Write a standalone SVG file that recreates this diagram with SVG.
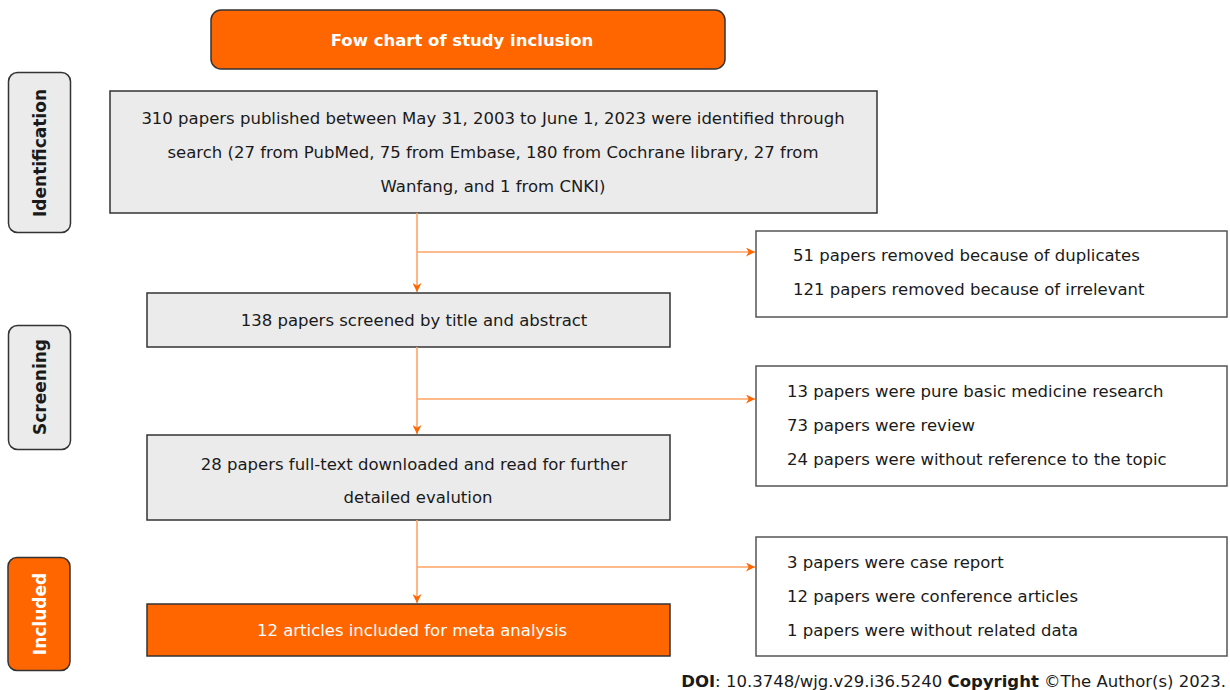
<svg xmlns="http://www.w3.org/2000/svg" width="1230" height="690" viewBox="0 0 1230 690">
<style>
text{font-family:"DejaVu Sans","Liberation Sans",sans-serif;font-size:16.5px;fill:#1a1a1a}
.gray{fill:#ebebeb;stroke:#333;stroke-width:1.5}
.white{fill:#fff;stroke:#555;stroke-width:1.5}
.orange{fill:#ff6600;stroke:#333;stroke-width:1.5}
.side{font-weight:bold;font-size:17px}
.wt{fill:#fff}
.c{text-anchor:middle}
.conn{stroke:#ffa366;stroke-width:1.6;fill:none}
</style>
<defs>
<marker id="ah" viewBox="0 0 10 10" refX="10" refY="5" markerWidth="9" markerHeight="9" markerUnits="userSpaceOnUse" orient="auto">
<path d="M0,0 L10,5 L0,10 L3,5 z" fill="#ff6600"/>
</marker>
</defs>
<g id="title"><rect class="orange" x="211" y="10" width="514" height="59" rx="10"/><text class="c wt" x="462" y="46" font-weight="bold">Fow chart of study inclusion</text></g>
<g id="side-identification"><rect class="gray" x="8.5" y="72.5" width="62" height="160" rx="9"/><text class="side c" transform="translate(46,153) rotate(-90)">Identification</text></g>
<g id="side-screening"><rect class="gray" x="8.5" y="325.5" width="62" height="124" rx="9"/><text class="side c" transform="translate(46,387) rotate(-90)">Screening</text></g>
<g id="side-included"><rect class="orange" x="8" y="557.5" width="62" height="113" rx="9"/><text class="side c wt" transform="translate(46,614) rotate(-90)">Included</text></g>
<g id="box-identified"><rect class="gray" x="110" y="91" width="767" height="122"/>
<text class="c" x="493" y="124">310 papers published between May 31, 2003 to June 1, 2023 were identified through</text>
<text class="c" x="493" y="158">search (27 from PubMed, 75 from Embase, 180 from Cochrane library, 27 from</text>
<text class="c" x="493" y="192">Wanfang, and 1 from CNKI)</text></g>
<g id="box-screened"><rect class="gray" x="147" y="293" width="523" height="54"/><text class="c" x="414" y="326">138 papers screened by title and abstract</text></g>
<g id="box-fulltext"><rect class="gray" x="147" y="435" width="523" height="85"/><text class="c" x="414" y="470">28 papers full-text downloaded and read for further</text><text class="c" x="418" y="503">detailed evalution</text></g>
<g id="box-included"><rect class="orange" x="147" y="604" width="523" height="52"/><text class="c wt" x="412" y="636">12 articles included for meta analysis</text></g>
<g id="excl-1"><rect class="white" x="756" y="231" width="471" height="86"/><text x="793" y="261">51 papers removed because of duplicates</text><text x="793" y="295">121 papers removed because of irrelevant</text></g>
<g id="excl-2"><rect class="white" x="756" y="366" width="471" height="120"/><text x="787" y="397">13 papers were pure basic medicine research</text><text x="787" y="431">73 papers were review</text><text x="787" y="465">24 papers were without reference to the topic</text></g>
<g id="excl-3"><rect class="white" x="756" y="537" width="471" height="119"/><text x="787" y="568">3 papers were case report</text><text x="787" y="602">12 papers were conference articles</text><text x="787" y="636">1 papers were without related data</text></g>
<g id="connectors">
<path class="conn" d="M417,213 V292" marker-end="url(#ah)"/>
<path class="conn" d="M417,252 H755" marker-end="url(#ah)"/>
<path class="conn" d="M417,347 V434" marker-end="url(#ah)"/>
<path class="conn" d="M417,399 H755" marker-end="url(#ah)"/>
<path class="conn" d="M417,520 V603" marker-end="url(#ah)"/>
<path class="conn" d="M417,567 H755" marker-end="url(#ah)"/>
</g>
<text x="1226" y="687" text-anchor="end" font-size="16.6"><tspan font-weight="bold">DOI</tspan>: 10.3748/wjg.v29.i36.5240 <tspan font-weight="bold">Copyright</tspan> ©The Author(s) 2023.</text>
</svg>
